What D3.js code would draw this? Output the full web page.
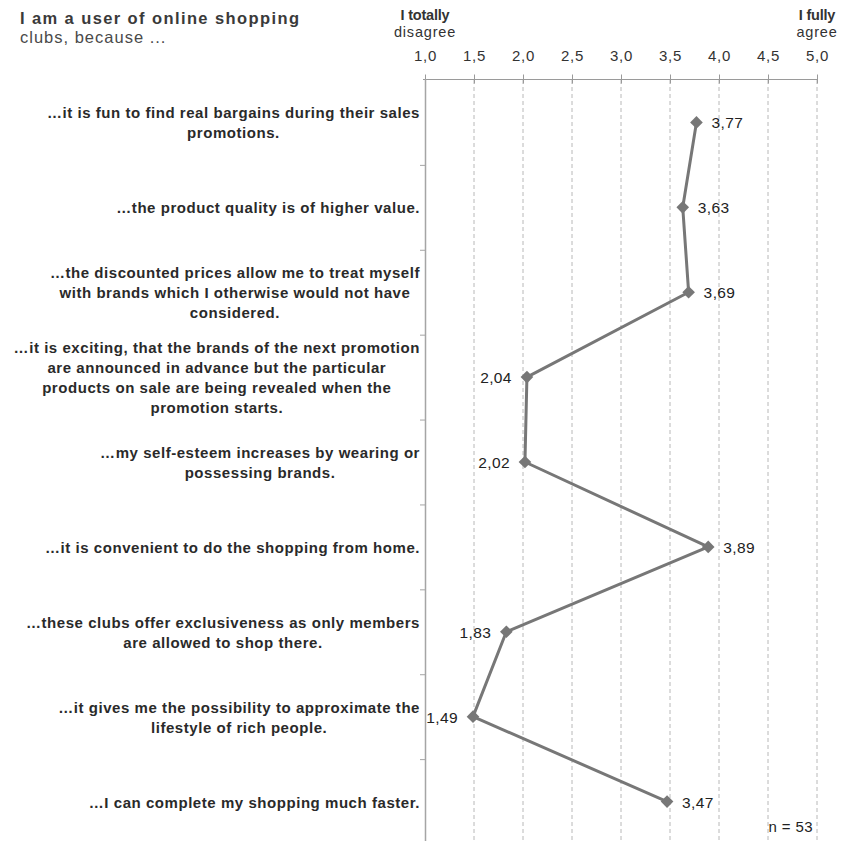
<!DOCTYPE html>
<html>
<head>
<meta charset="utf-8">
<script src="https://cdn.jsdelivr.net/npm/d3@7"></script>
<style>
  html, body { margin: 0; padding: 0; background: #fff; }
  svg { display: block; font-family: "Liberation Sans", Arial, sans-serif; }
</style>
</head>
<body>
<svg id="chart" width="843" height="841"></svg>
<script>
// Survey statements (line breaks as printed)
const statements = [
  "…it is fun to find real bargains during their sales\npromotions.",
  "…the product quality is of higher value.",
  "…the discounted prices allow me to treat myself\nwith brands which I otherwise would not have\nconsidered.",
  "…it is exciting, that the brands of the next promotion\nare announced in advance but the particular\nproducts on sale are being revealed when the\npromotion starts.",
  "…my self-esteem increases by wearing or\npossessing brands.",
  "…it is convenient to do the shopping from home.",
  "…these clubs offer exclusiveness as only members\nare allowed to shop there.",
  "…it gives me the possibility to approximate the\nlifestyle of rich people.",
  "…I can complete my shopping much faster."
];

// Mean agreement per statement
const means = [3.77, 3.63, 3.69, 2.04, 2.02, 3.89, 1.83, 1.49, 3.47];

// Which side of the marker each value label sits on
const labelSide = ["right", "right", "right", "left", "left", "right", "left", "left", "right"];

// Scale ticks
const tickValues = [1.0, 1.5, 2.0, 2.5, 3.0, 3.5, 4.0, 4.5, 5.0];

const titleLines = ["I am a user of online shopping", "clubs, because ..."];
const sampleNote = "n = 53";

const svg = d3.select("#chart");
const fmt = v => d3.format(".2f")(v).replace(".", ",");
const fmtTick = v => d3.format(".1f")(v).replace(".", ",");

const x = d3.scaleLinear().domain([1, 5]).range([425, 817]);
const y = d3.scaleBand().domain(d3.range(statements.length)).range([80, 844]);

// Title
svg.append("text").attr("x", 20).attr("y", 23.5)
  .attr("font-size", 16.5).attr("font-weight", "bold").attr("fill", "#3a3a3a")
  .attr("letter-spacing", 1.4)
  .text(titleLines[0]);
svg.append("text").attr("x", 20).attr("y", 43)
  .attr("font-size", 16.5).attr("fill", "#4a4a4a")
  .attr("letter-spacing", 1.0)
  .text(titleLines[1]);

// Scale anchors
[[1, "I totally", "disagree"], [5, "I fully", "agree"]].forEach(([v, a, b]) => {
  svg.append("text").attr("x", x(v)).attr("y", 20).attr("text-anchor", "middle")
    .attr("font-size", 14.5).attr("font-weight", "bold")
    .attr("fill", "#333").attr("letter-spacing", -0.2).text(a);
  svg.append("text").attr("x", x(v)).attr("y", 36.5).attr("text-anchor", "middle")
    .attr("font-size", 14.5).attr("letter-spacing", 0.8)
    .attr("fill", "#333").text(b);
});

// Vertical dashed gridlines
svg.append("g").selectAll("line")
  .data(tickValues.slice(1))
  .join("line")
  .attr("x1", d => x(d)).attr("x2", d => x(d))
  .attr("y1", 80).attr("y2", 841)
  .attr("stroke", "#b8b8b8").attr("stroke-width", 1)
  .attr("stroke-dasharray", "4,3");

// Top axis
const xAxis = d3.axisTop(x).tickValues(tickValues).tickFormat(fmtTick)
  .tickSizeInner(5).tickSizeOuter(0).tickPadding(10);
const gx = svg.append("g").attr("transform", "translate(0,79.5)").call(xAxis);
gx.select(".domain").attr("stroke", "#9a9a9a").attr("d", `M${x(1) - 2},0H${x(5)}`);
gx.selectAll(".tick line").attr("stroke", "#9a9a9a").attr("y1", 4).attr("y2", -5);
gx.selectAll(".tick text").attr("font-size", 15).attr("fill", "#333")
  .attr("letter-spacing", 0.8)
  .attr("font-family", "Liberation Sans, Arial, sans-serif").attr("y", -19).attr("dy", 0);

// Left category axis line with band separators
svg.append("line").attr("x1", 425.5).attr("x2", 425.5).attr("y1", 79).attr("y2", 841)
  .attr("stroke", "#a5a5a5").attr("stroke-width", 1.5);
svg.append("g").selectAll("line")
  .data(d3.range(1, statements.length))
  .join("line")
  .attr("x1", 420).attr("x2", 425)
  .attr("y1", d => y(d) + 0.5).attr("y2", d => y(d) + 0.5)
  .attr("stroke", "#a5a5a5");

// Category labels: lines centred on each other, block right-aligned to the axis
const lineH = 20;
statements.forEach((s, i) => {
  const lines = s.split("\n");
  const g = svg.append("g");
  const cy = y(i) + y.bandwidth() / 2;
  const top = cy - (lines.length - 1) * lineH / 2 + 6;
  const texts = g.selectAll("text").data(lines).join("text")
    .attr("y", (d, k) => top + k * lineH)
    .attr("font-size", 15).attr("font-weight", "bold").attr("fill", "#2a2a2a")
    .attr("letter-spacing", 0.55)
    .text(d => d);
  let w = 0;
  texts.each(function () { w = Math.max(w, this.getComputedTextLength()); });
  texts.attr("x", 420 - w / 2).attr("text-anchor", "middle");
});

// Connecting line
const pts = means.map((v, i) => [x(v), y(i) + y.bandwidth() / 2]);
svg.append("path")
  .attr("d", d3.line()(pts))
  .attr("fill", "none").attr("stroke", "#777").attr("stroke-width", 3)
  .attr("stroke-linejoin", "round");

// Diamond markers
const diamond = d3.symbol().type(d3.symbolSquare).size(80);
svg.append("g").selectAll("path")
  .data(means)
  .join("path")
  .attr("d", diamond)
  .attr("transform", (d, i) => `translate(${x(d)},${y(i) + y.bandwidth() / 2}) rotate(45)`)
  .attr("fill", "#777");

// Value labels
svg.append("g").selectAll("text")
  .data(means)
  .join("text")
  .attr("x", (d, i) => labelSide[i] === "right" ? x(d) + 15 : x(d) - 15)
  .attr("y", (d, i) => y(i) + y.bandwidth() / 2 + 6)
  .attr("text-anchor", (d, i) => labelSide[i] === "right" ? "start" : "end")
  .attr("font-size", 15.5).attr("fill", "#222").attr("letter-spacing", 0.4)
  .text(d => fmt(d));

// Sample size
svg.append("text").attr("x", 813).attr("y", 832).attr("text-anchor", "end")
  .attr("font-size", 15).attr("fill", "#222").attr("letter-spacing", 0.4).text(sampleNote);
</script>
</body>
</html>
